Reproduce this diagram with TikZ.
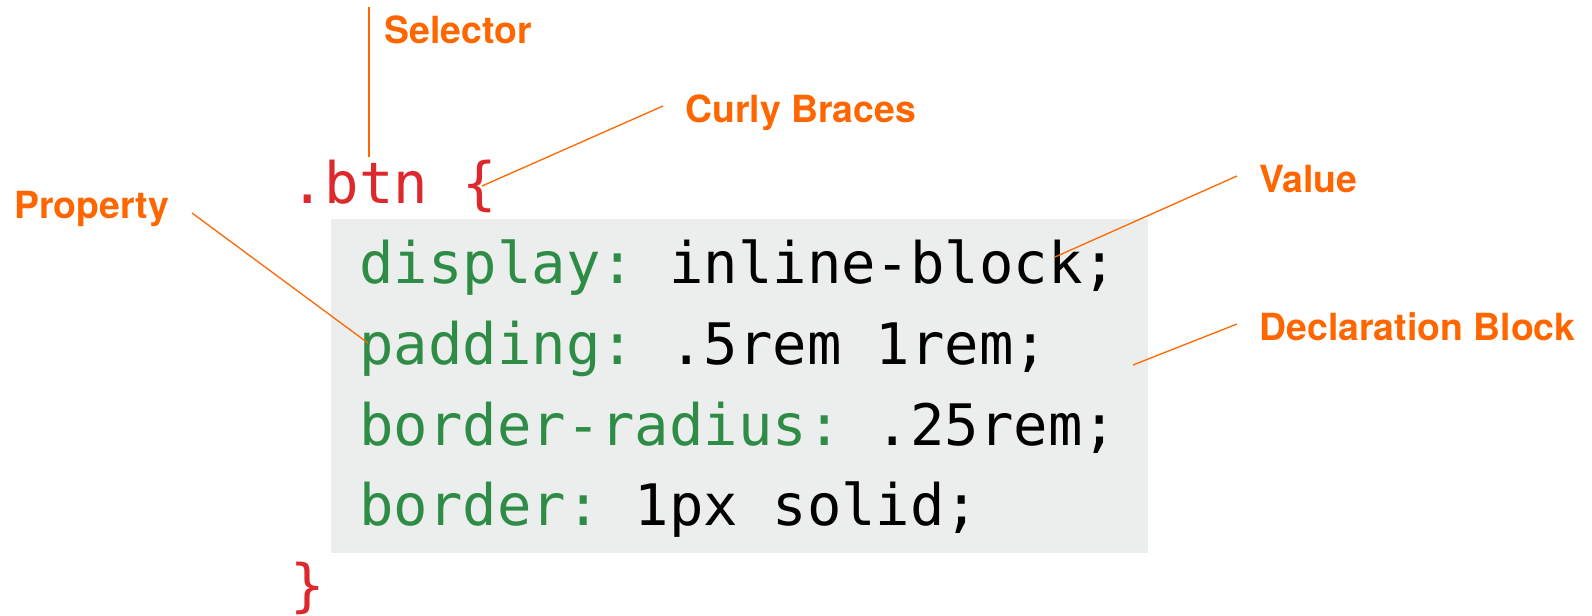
\documentclass[tikz,border=0pt]{standalone}
\usepackage{fontspec}
\setmonofont{DejaVu Sans Mono}
\newfontfamily\tagfont{TeX Gyre Heros}
\usepackage{tikz}
\definecolor{tagorange}{RGB}{255,102,0}
\definecolor{selred}{RGB}{221,40,44}
\definecolor{propgreen}{RGB}{46,140,70}
\definecolor{boxgray}{RGB}{236,238,237}

\begin{document}
\begin{tikzpicture}[x=0.5pt,y=-0.5pt,
  tag/.style={anchor=base west,inner sep=0pt,text=tagorange,font=\tagfont\bfseries\fontsize{18.7}{20}\selectfont},
  code/.style={anchor=base west,inner sep=0pt,font=\ttfamily\fontsize{28.6}{32}\selectfont},
  pointer/.style={draw=tagorange,line width=0.65pt}]
\useasboundingbox (0,0) rectangle (1592,616);
\fill[boxgray] (331,219) rectangle (1148,553);
\node[code,text=selred] (btn) at (290,203) {.btn\ \{};
\node[code] (l1) at (359,283) {\textcolor{propgreen}{display:}\ inline-block;};
\node[code] (l2) at (359,364) {\textcolor{propgreen}{padding:}\ .5rem\ 1rem;};
\node[code] (l3) at (359,445) {\textcolor{propgreen}{border-radius:}\ .25rem;};
\node[code] (l4) at (359,525) {\textcolor{propgreen}{border:}\ 1px\ solid;};
\node[code,text=selred] (close) at (290,605) {\}};
\node[tag] (selector) at (384,43) {Selector};
\node[tag] (curly) at (685,122) {Curly Braces};
\node[tag] (property) at (14,218) {Property};
\node[tag] (value) at (1259,192) {Value};
\node[tag] (block) at (1259,340) {Declaration Block};
\coordinate (selend) at (369,7);
\coordinate (ttop) at (369,157);
\coordinate (curlyend) at (663,106);
\coordinate (brace) at (482,186);
\coordinate (propend) at (192,213);
\coordinate (ptop) at (368,343);
\coordinate (valend) at (1237,176);
\coordinate (kstem) at (1055,257);
\coordinate (blockend) at (1237,324);
\coordinate (inbox) at (1133,365);
\draw[pointer] (selend) -- (ttop);
\draw[pointer] (curlyend) -- (brace);
\draw[pointer] (propend) -- (ptop);
\draw[pointer] (valend) -- (kstem);
\draw[pointer] (blockend) -- (inbox);
\end{tikzpicture}
\end{document}
